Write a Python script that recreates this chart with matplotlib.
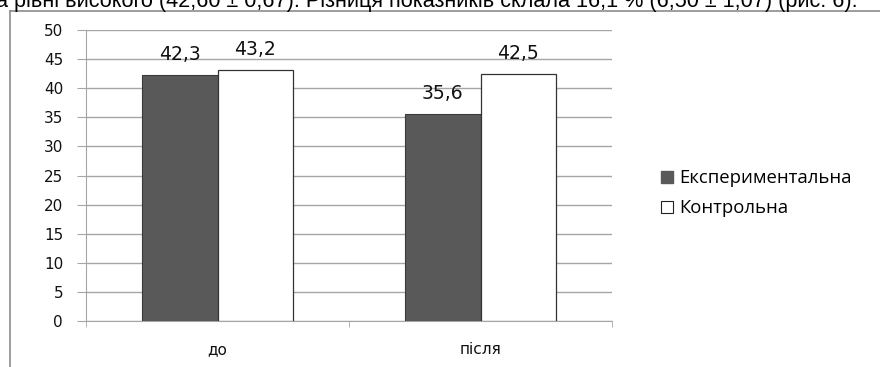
#!/usr/bin/env python3

import numpy as np
import matplotlib
matplotlib.use('Agg')
import matplotlib.pyplot as plt
from matplotlib.lines import Line2D

# chart data
categories = ['до', 'після']
series_names = ['Експериментальна', 'Контрольна']
experimental = [42.3, 35.6]
control = [43.2, 42.5]
y_ticks = [0, 5, 10, 15, 20, 25, 30, 35, 40, 45, 50]
caption = 'а рівні високого (42,60 ± 0,67). Різниця показників склала 16,1 % (6,50 ± 1,07) (рис. 6).'


def main():
    plt.rcParams['font.family'] = ['DejaVu Sans']
    fig = plt.figure(figsize=(8.8, 3.67), dpi=100)
    ax = fig.add_axes([86 / 880, 46 / 367, 526 / 880, 291 / 367])

    x = np.arange(len(categories))
    width = 0.287
    b1 = ax.bar(x - width / 2, experimental, width, color='#595959',
                edgecolor='#3a3a3a', linewidth=0.8, zorder=3,
                label=series_names[0])
    b2 = ax.bar(x + width / 2, control, width, color='white',
                edgecolor='#333333', linewidth=0.9, zorder=3,
                label=series_names[1])

    # value labels above the bars
    for bars, vals in ((b1, experimental), (b2, control)):
        for rect, v in zip(bars, vals):
            ax.annotate(f'{v:.1f}'.replace('.', ','),
                        (rect.get_x() + rect.get_width() / 2, v),
                        xytext=(0, 11), textcoords='offset pixels',
                        ha='center', va='bottom', fontsize=13.5,
                        color='#111111')

    ax.set_xlim(-0.5, len(categories) - 0.5)
    ax.set_ylim(0, 50)
    ax.set_yticks(y_ticks)
    ax.set_xticks(x)
    ax.set_xticklabels(categories)
    ax.set_xticks([-0.5, 0.5, 1.5], minor=True)
    ax.yaxis.grid(True, color='#a6a6a6', linewidth=1.0, zorder=0)
    for s in ('top', 'right'):
        ax.spines[s].set_visible(False)
    ax.spines['left'].set_color('#a6a6a6')
    ax.spines['bottom'].set_color('#a6a6a6')
    ax.tick_params(axis='y', length=6.5, color='#a6a6a6', pad=10,
                   labelsize=11, labelcolor='#111111')
    ax.tick_params(axis='x', which='major', length=0, pad=15,
                   labelsize=11, labelcolor='#111111')
    ax.tick_params(axis='x', which='minor', length=4, color='#a6a6a6')

    # legend
    handles = [
        Line2D([], [], marker='s', linestyle='none', markersize=8.5,
               markerfacecolor='#595959', markeredgecolor='#595959'),
        Line2D([], [], marker='s', linestyle='none', markersize=8.5,
               markerfacecolor='white', markeredgecolor='#222222',
               markeredgewidth=0.8),
    ]
    fig.legend(handles, series_names, loc='center left',
               bbox_to_anchor=(643 / 880, 1 - 193 / 367), frameon=False,
               prop={'family': 'Open Sans', 'size': 13.3},
               handlelength=0.8, handletextpad=0.25, labelspacing=0.65)

    # chart frame (partially visible)
    fig.add_artist(Line2D([10 / 880, 10 / 880], [0, 1 - 11 / 367],
                          color='#8c8c8c', linewidth=1.2))
    fig.add_artist(Line2D([10 / 880, 1], [1 - 11 / 367, 1 - 11 / 367],
                          color='#8c8c8c', linewidth=1.2))

    # cut-off text line above the chart
    fig.text(-0.004, 1 - 7 / 367, caption, ha='left', va='baseline',
             fontsize=15.6, family='Liberation Sans', color='black')

    fig.savefig('out.png', dpi=100)


if __name__ == '__main__':
    main()
